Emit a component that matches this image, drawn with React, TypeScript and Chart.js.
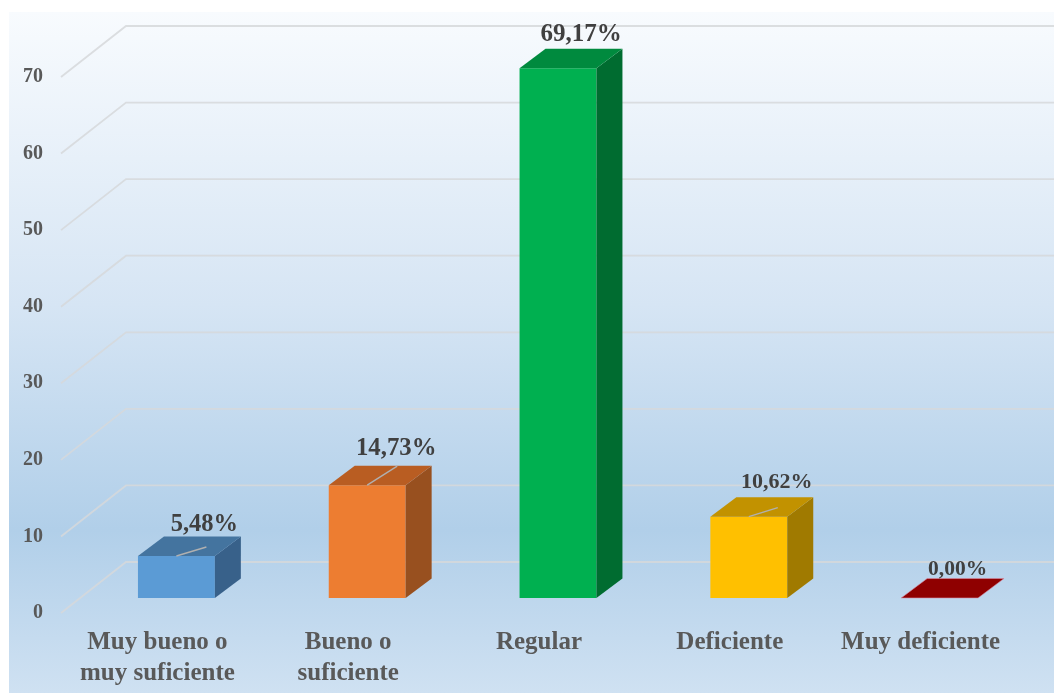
import React, { useEffect, useRef } from "react";
import { Chart, registerables } from "chart.js";

Chart.register(...registerables);

const categories: (string | string[])[] = [
  ["Muy bueno o", "muy suficiente"],
  ["Bueno o", "suficiente"],
  "Regular",
  "Deficiente",
  "Muy deficiente",
];
const values = [5.48, 14.73, 69.17, 10.62, 0];

const frontColors = ["#5b9bd5", "#ed7d31", "#00b050", "#ffc000", "#c00000"];
const topColors = ["#44749f", "#b95d22", "#008a3e", "#c29200", "#8f0000"];
const sideColors = ["#38618a", "#98501f", "#006c30", "#a07a00", "#700000"];

const labelDx = [28, 29, 23, 28, 18];
const labelDy = [-31, -37, -34, -34, -29];
const labelSizes = [24.5, 24.8, 25, 22, 21.5];
const leaderEnds: ([number, number] | null)[] = [[30, -9], [30, -19], null, [29, -9], null];

const FONT = '"Liberation Serif", "Times New Roman", serif';
const DEPTH_X = 26;
const DEPTH_Y = 19.5;
const WALL_X = 65;
const WALL_Y = 51;
const AXIS_LEFT = 61;
const BAR_UNITS_SHIFT = 1.96;

const poly = (ctx: CanvasRenderingContext2D, pts: number[][], fill: string, edge?: string) => {
  ctx.beginPath();
  pts.forEach(([x, y], i) => (i ? ctx.lineTo(x, y) : ctx.moveTo(x, y)));
  ctx.closePath();
  ctx.fillStyle = fill;
  ctx.fill();
  if (edge) {
    ctx.strokeStyle = edge;
    ctx.lineWidth = 1;
    ctx.stroke();
  }
};

const scene3d = {
  id: "scene3d",
  beforeDraw(chart: any) {
    const { ctx, width, height } = chart;
    const g = ctx.createLinearGradient(0, 12, 0, height);
    g.addColorStop(0, "#f8fbfe");
    g.addColorStop(0.43, "#d6e5f4");
    g.addColorStop(0.76, "#b1cfe9");
    g.addColorStop(1, "#cfe1f2");
    ctx.save();
    ctx.fillStyle = "#ffffff";
    ctx.fillRect(0, 0, width, height);
    ctx.fillStyle = g;
    ctx.fillRect(9, 12, width - 9, height - 12);
    ctx.restore();
  },
  beforeDatasetsDraw(chart: any) {
    const { ctx, scales } = chart;
    const y = scales.y;
    ctx.save();
    ctx.strokeStyle = "rgba(214,216,218,0.85)";
    ctx.lineWidth = 1.8;
    y.ticks.forEach((t: any) => {
      const py = y.getPixelForValue(t.value);
      ctx.beginPath();
      ctx.moveTo(AXIS_LEFT, py);
      ctx.lineTo(AXIS_LEFT + WALL_X, py - WALL_Y);
      ctx.lineTo(chart.width, py - WALL_Y);
      ctx.stroke();
    });
    ctx.restore();
  },
  afterDatasetsDraw(chart: any) {
    const { ctx } = chart;
    const bars = chart.getDatasetMeta(0).data;
    ctx.save();
    bars.forEach((bar: any, i: number) => {
      const l = bar.x - bar.width / 2;
      const r = bar.x + bar.width / 2;
      const top = bar.y;
      const base = bar.base;
      const flat = base - top <= 0.5;
      if (!flat) {
        poly(ctx, [[r, top], [r + DEPTH_X, top - DEPTH_Y], [r + DEPTH_X, base - DEPTH_Y], [r, base]], sideColors[i]);
      }
      poly(
        ctx,
        [[l, top], [l + DEPTH_X, top - DEPTH_Y], [r + DEPTH_X, top - DEPTH_Y], [r, top]],
        topColors[i],
        flat ? "rgba(215,140,165,0.6)" : undefined,
      );
      const end = leaderEnds[i];
      if (end) {
        ctx.strokeStyle = "#b0b0b0";
        ctx.lineWidth = 1.4;
        ctx.beginPath();
        ctx.moveTo(bar.x, top);
        ctx.lineTo(bar.x + end[0], top + end[1]);
        ctx.stroke();
      }
      ctx.fillStyle = "#404040";
      ctx.font = `bold ${labelSizes[i]}px ${FONT}`;
      ctx.textAlign = "center";
      ctx.textBaseline = "middle";
      ctx.fillText(`${values[i].toFixed(2).replace(".", ",")}%`, bar.x + labelDx[i], top + labelDy[i]);
    });
    ctx.restore();
  },
};

export default function App() {
  const ref = useRef<HTMLCanvasElement>(null);
  useEffect(() => {
    const chart = new Chart(ref.current as HTMLCanvasElement, {
      type: "bar",
      data: {
        labels: categories as any,
        datasets: [
          {
            data: values,
            backgroundColor: frontColors,
            borderWidth: 0,
            yAxisID: "yBar",
            clip: false as any,
            categoryPercentage: 1,
            barPercentage: 0.403,
          },
        ],
      },
      options: {
        animation: false,
        responsive: false,
        layout: { padding: { top: 77, right: 19, left: 0, bottom: 0 } },
        plugins: { legend: { display: false }, tooltip: { enabled: false } },
        scales: {
          x: {
            offset: true,
            grid: { display: false, drawTicks: false },
            border: { display: false },
            afterFit: (s: any) => { s.height = 80; },
            ticks: {
              color: "#595959",
              font: { family: FONT, size: 25, weight: "bold", lineHeight: 1.24 },
              padding: 14,
              labelOffset: -19,
              maxRotation: 0,
              autoSkip: false,
            },
          },
          y: {
            min: 0,
            max: 70,
            grid: { display: false, drawTicks: false },
            border: { display: false },
            afterFit: (s: any) => { s.width = 81; },
            ticks: {
              stepSize: 10,
              color: "#595959",
              font: { family: FONT, size: 20, weight: "bold" },
              padding: 38,
            },
          },
          yBar: {
            display: false,
            min: -BAR_UNITS_SHIFT,
            max: 70 - BAR_UNITS_SHIFT,
          },
        },
      } as any,
      plugins: [scene3d as any],
    });
    return () => chart.destroy();
  }, []);
  return (
    <div style={{ position: "fixed", left: 0, top: 0, width: 1054, height: 693 }}>
      <canvas ref={ref} width={1054} height={693} style={{ display: "block", filter: "blur(0.4px)" }} />
    </div>
  );
}
